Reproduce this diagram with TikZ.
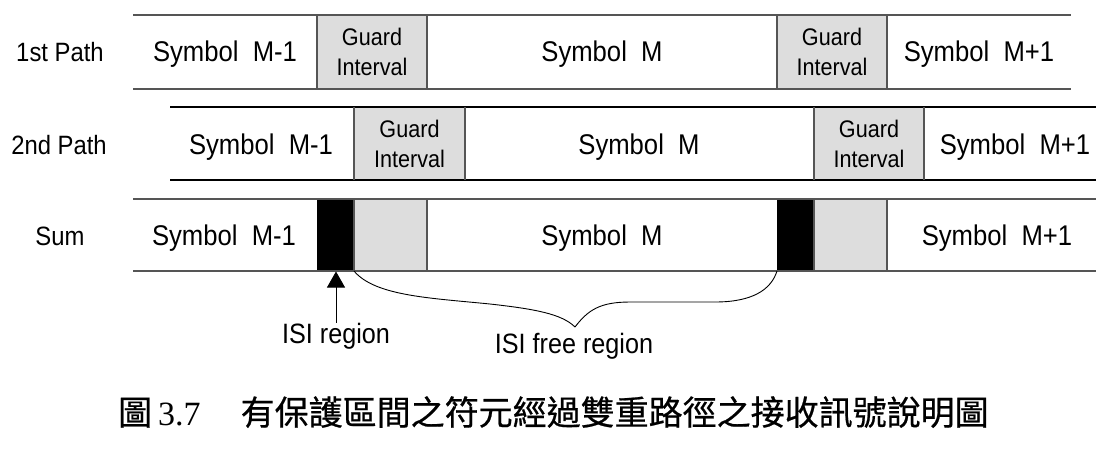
\documentclass[tikz,border=0pt]{standalone}
\usepackage{fontspec}
\setmainfont{Liberation Sans}[FakeStretch=0.9]
\newfontfamily\cjk{Noto Sans CJK TC}[FakeBold=0.6]
\newfontfamily\tnr{Liberation Serif}
\usetikzlibrary{arrows.meta}
\definecolor{gifill}{HTML}{DDDDDD}
\definecolor{lgray}{HTML}{555555}
\begin{document}
\begin{tikzpicture}[x=1pt,y=-1pt,
  sym/.style={anchor=base,inner sep=0pt,font=\fontsize{28.5}{30}\selectfont},
  lab/.style={anchor=base,inner sep=0pt,font=\fontsize{26.5}{30}\selectfont},
  gi/.style={anchor=center,inner sep=0pt,align=center,font=\fontsize{24}{30}\selectfont},
  note/.style={anchor=base,inner sep=0pt,font=\fontsize{28}{30}\selectfont},
  rowline/.style={line width=1.3pt},
  divline/.style={line width=1.2pt,lgray}]
\useasboundingbox (0,0) rectangle (1096,448);
% ---- row 1 ----
\fill[gifill] (317,15) rectangle (427,89);
\fill[gifill] (777,15) rectangle (887,89);
\draw[rowline,lgray] (133,15) -- (1071,15);
\draw[rowline,lgray] (133,89) -- (1071,89);
\foreach \x in {317,427,777,887} \draw[divline] (\x,15) -- (\x,89);
% ---- row 2 ----
\fill[gifill] (354,107) rectangle (465,180);
\fill[gifill] (814,107) rectangle (924,180);
\draw[rowline,black] (170,107) -- (1096,107);
\draw[rowline,black] (170,180) -- (1096,180);
\foreach \x in {354,465,814,924} \draw[divline] (\x,107) -- (\x,180);
% ---- sum row ----
\fill[black] (317,199) rectangle (354,271);
\fill[gifill] (354,199) rectangle (427,271);
\fill[black] (777,199) rectangle (814,271);
\fill[gifill] (814,199) rectangle (887,271);
\draw[rowline,lgray] (133,199) -- (1096,199);
\draw[rowline,lgray] (133,271) -- (1096,271);
\foreach \x in {354,427,814,887} \draw[divline] (\x,199) -- (\x,271);
% ---- labels ----
\node[lab] (l1) at (60,61.5) {1st Path};
\node[lab] (l2) at (59,154) {2nd Path};
\node[lab] (l3) at (60,245) {Sum};
% ---- row 1 texts ----
\node[sym] (a1) at (225,61.5) {Symbol\ \ M-1};
\node[gi]  (a2) at (372,52) {Guard\\Interval};
\node[sym] (a3) at (602,61.5) {Symbol\ \ M};
\node[gi]  (a4) at (832,52) {Guard\\Interval};
\node[sym] (a5) at (979,61.5) {Symbol\ \ M+1};
% ---- row 2 texts ----
\node[sym] (b1) at (261,154) {Symbol\ \ M-1};
\node[gi]  (b2) at (409.5,144) {Guard\\Interval};
\node[sym] (b3) at (639,154) {Symbol\ \ M};
\node[gi]  (b4) at (869,144) {Guard\\Interval};
\node[sym] (b5) at (1015,154) {Symbol\ \ M+1};
% ---- sum texts ----
\node[sym] (c1) at (224,245) {Symbol\ \ M-1};
\node[sym] (c3) at (602,245) {Symbol\ \ M};
\node[sym] (c5) at (997,245) {Symbol\ \ M+1};
% ---- ISI region arrow ----
\node[note] (isi) at (336,343) {ISI region};
\coordinate (isitop) at (336,271.5);
\draw[line width=0.8pt,-{Triangle[width=18pt,length=16pt]}] (isi.north) -- (isitop);
% ---- ISI free region brace ----
\coordinate (bl) at (354,271);
\coordinate (br) at (777,271);
\coordinate (btip) at (575,327);
\draw[line width=0.9pt] (bl) .. controls (375,296) and (430,298) .. (490,304)
      .. controls (535,309) and (562,314) .. (btip);
\draw[line width=0.9pt] (btip) .. controls (588,310) and (600,302) .. (630,302)
      -- (715,302) .. controls (752,302) and (771,290) .. (br);
\node[note] (free) at (574,353) {ISI free region};
% ---- caption ----
\node[anchor=base west,inner sep=0pt,font=\fontsize{34}{40}\selectfont] (cap) at (118,425)
  {{\cjk 圖}\hspace{6pt}{\tnr 3.7}\hspace{40pt}{\cjk 有保護區間之符元經過雙重路徑之接收訊號說明圖}};
\end{tikzpicture}
\end{document}
